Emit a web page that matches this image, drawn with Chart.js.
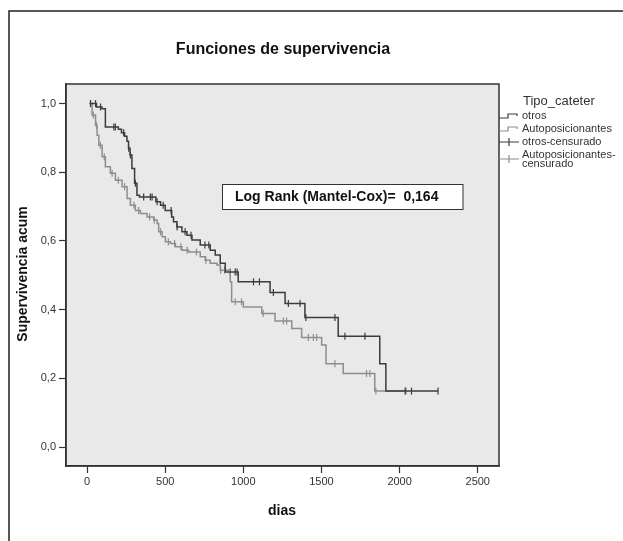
<!DOCTYPE html>
<html>
<head>
<meta charset="utf-8">
<script src="https://cdn.jsdelivr.net/npm/chart.js@4"></script>
<style>
  html, body { margin: 0; padding: 0; background: #fff; }
  #wrap { width: 623px; height: 541px; position: relative; }
</style>
</head>
<body>
<div id="wrap"><canvas id="chart"></canvas></div>
<script>
// Tick labels
const xTicks = [0, 500, 1000, 1500, 2000, 2500];
const yTicks = [0, 0.2, 0.4, 0.6, 0.8, 1.0];

// Kaplan-Meier steps, group "otros" (day, survival after the step)
const otrosDias = [15, 60, 95, 117, 200, 220, 240, 255, 265, 275, 287, 304, 319, 335, 440, 470, 500, 541, 553, 575,
  607, 639, 671, 724, 788, 820, 852, 884, 967, 1171, 1267, 1394, 1607, 1873, 1912, 2246];
const otrosSurv = [1.0, 0.99, 0.985, 0.932, 0.925, 0.915, 0.905, 0.89, 0.87, 0.85, 0.811, 0.768, 0.733, 0.728, 0.714, 0.704, 0.689, 0.670, 0.656, 0.641,
  0.627, 0.617, 0.603, 0.588, 0.573, 0.559, 0.535, 0.51, 0.481, 0.45, 0.418, 0.377, 0.323, 0.243, 0.163, 0.163];

// Kaplan-Meier steps, group "Autoposicionantes"
const autoDias = [20, 32, 54, 64, 75, 96, 117, 149, 181, 224, 256, 277, 309, 341, 384, 426, 448, 458, 480, 501,
  533, 565, 607, 650, 724, 756, 788, 831, 852, 916, 925, 1000, 1118, 1203, 1310, 1373, 1501, 1529, 1639, 1841, 2033];
const autoSurv = [1.0, 0.967, 0.937, 0.908, 0.879, 0.845, 0.816, 0.797, 0.777, 0.758, 0.724, 0.704, 0.689, 0.680, 0.670, 0.661, 0.651, 0.627, 0.612, 0.598,
  0.593, 0.583, 0.573, 0.568, 0.554, 0.544, 0.535, 0.530, 0.515, 0.481, 0.423, 0.408, 0.389, 0.367, 0.345, 0.319, 0.297, 0.243, 0.214, 0.163, 0.163];

// Censored times (marks sit on the curve)
const otrosCens = [22, 54, 86, 171, 181, 234, 266, 277, 309, 362, 405, 416, 448, 487, 538, 576, 627, 665, 754, 779,
  916, 948, 960, 1065, 1103, 1192, 1288, 1363, 1400, 1586, 1650, 1778, 2039, 2076, 2246];
const autoCens = [22, 40, 60, 85, 110, 160, 200, 240, 300, 330, 400, 430, 470, 520, 560, 600, 640, 700, 760, 855,
  880, 948, 988, 1127, 1256, 1277, 1416, 1448, 1469, 1586, 1788, 1810, 1848, 2033];

const DARK = '#3c3c3c';
const LIGHT = '#8e8e8e';
const FONT = 'Arial, "Liberation Sans", sans-serif';

// value of the step curve at day t
function survAt(dias, surv, t) {
  let s = surv[0];
  for (let i = 0; i < dias.length; i++) {
    if (dias[i] <= t) s = surv[i];
  }
  return s;
}

const toPoints = (xs, ys) => xs.map((x, i) => ({ x: x, y: ys[i] }));
const censPoints = (cens, dias, surv) => cens.map(t => ({ x: t, y: survAt(dias, surv, t) }));

const decor = {
  id: 'decor',
  beforeDraw(chart) {
    const { ctx, chartArea: a } = chart;
    ctx.save();
    ctx.fillStyle = '#fff';
    ctx.fillRect(0, 0, chart.width, chart.height);
    // outer frame (left and top edges visible)
    ctx.strokeStyle = '#222';
    ctx.lineWidth = 1.5;
    ctx.beginPath();
    ctx.moveTo(9, chart.height);
    ctx.lineTo(9, 11);
    ctx.lineTo(chart.width, 11);
    ctx.stroke();
    // plot area background
    ctx.fillStyle = '#e9e9e9';
    ctx.fillRect(a.left, a.top, a.right - a.left, a.bottom - a.top);
    ctx.restore();
  },
  afterDraw(chart) {
    const { ctx, chartArea: a } = chart;
    ctx.save();
    ctx.strokeStyle = '#333';
    ctx.lineWidth = 1.5;
    ctx.strokeRect(a.left, a.top, a.right - a.left, a.bottom - a.top);

    ctx.fillStyle = '#111';
    ctx.textAlign = 'center';
    ctx.textBaseline = 'middle';
    ctx.font = 'bold 16px ' + FONT;
    ctx.fillText('Funciones de supervivencia', 283, 50);
    ctx.font = 'bold 14px ' + FONT;
    ctx.fillText('dias', 282, 511);
    ctx.save();
    ctx.translate(23, 274);
    ctx.rotate(-Math.PI / 2);
    ctx.fillText('Supervivencia acum', 0, 0);
    ctx.restore();

    // Log rank box
    ctx.fillStyle = '#fff';
    ctx.fillRect(222.5, 184.5, 240.5, 25);
    ctx.lineWidth = 1;
    ctx.strokeStyle = '#333';
    ctx.strokeRect(222.5, 184.5, 240.5, 25);
    ctx.fillStyle = '#111';
    ctx.textAlign = 'left';
    ctx.font = 'bold 14px ' + FONT;
    ctx.fillText('Log Rank (Mantel-Cox)=  0,164', 235, 197.5);

    // legend
    ctx.fillStyle = '#333';
    ctx.font = '13px ' + FONT;
    ctx.fillText('Tipo_cateter', 523, 101);
    ctx.font = '11px ' + FONT;
    ctx.fillText('otros', 522, 116);
    ctx.fillText('Autoposicionantes', 522, 129);
    ctx.fillText('otros-censurado', 522, 142);
    ctx.fillText('Autoposicionantes-', 522, 155);
    ctx.fillText('censurado', 522, 164);

    const stepSym = (y, color) => {
      ctx.strokeStyle = color;
      ctx.lineWidth = 1.2;
      ctx.beginPath();
      ctx.moveTo(499, y + 2);
      ctx.lineTo(508, y + 2);
      ctx.lineTo(508, y - 2);
      ctx.lineTo(517, y - 2);
      ctx.lineTo(517, y);
      ctx.stroke();
    };
    const censSym = (y, color) => {
      ctx.strokeStyle = color;
      ctx.lineWidth = 1.2;
      ctx.beginPath();
      ctx.moveTo(499, y);
      ctx.lineTo(519, y);
      ctx.moveTo(509, y - 4);
      ctx.lineTo(509, y + 4);
      ctx.stroke();
    };
    stepSym(116, DARK);
    stepSym(129, LIGHT);
    censSym(142, DARK);
    censSym(159, LIGHT);
    ctx.restore();
  }
};

new Chart(document.getElementById('chart'), {
  type: 'scatter',
  data: {
    datasets: [
      {
        label: 'otros',
        data: toPoints(otrosDias, otrosSurv),
        showLine: true,
        stepped: true,
        borderColor: DARK,
        borderWidth: 1.5,
        pointRadius: 0
      },
      {
        label: 'Autoposicionantes',
        data: toPoints(autoDias, autoSurv),
        showLine: true,
        stepped: true,
        borderColor: LIGHT,
        borderWidth: 1.5,
        pointRadius: 0
      },
      {
        label: 'otros-censurado',
        data: censPoints(otrosCens, otrosDias, otrosSurv),
        showLine: false,
        pointStyle: 'line',
        rotation: 90,
        pointRadius: 3.5,
        borderColor: DARK,
        borderWidth: 1.2
      },
      {
        label: 'Autoposicionantes-censurado',
        data: censPoints(autoCens, autoDias, autoSurv),
        showLine: false,
        pointStyle: 'line',
        rotation: 90,
        pointRadius: 3.5,
        borderColor: LIGHT,
        borderWidth: 1.2
      }
    ]
  },
  options: {
    responsive: true,
    maintainAspectRatio: false,
    animation: false,
    events: [],
    layout: { padding: { left: 0, top: 84, right: 124, bottom: 0 } },
    plugins: {
      legend: { display: false },
      tooltip: { enabled: false }
    },
    scales: {
      x: {
        type: 'linear',
        min: -135,
        max: 2636,
        afterFit(scale) { scale.height = 75; },
        afterBuildTicks(scale) { scale.ticks = xTicks.map(v => ({ value: v })); },
        grid: { drawOnChartArea: false, drawTicks: true, tickLength: 7, color: '#333', tickWidth: 1.2 },
        border: { display: true, color: '#333', width: 1.5 },
        ticks: {
          padding: 2,
          color: '#333',
          font: { family: FONT, size: 11 },
          maxRotation: 0,
          callback: v => String(v)
        }
      },
      y: {
        type: 'linear',
        min: -0.055,
        max: 1.057,
        afterFit(scale) { scale.width = 66; },
        afterBuildTicks(scale) { scale.ticks = yTicks.map(v => ({ value: v })); },
        grid: { drawOnChartArea: false, drawTicks: true, tickLength: 7, color: '#333', tickWidth: 1.2 },
        border: { display: true, color: '#333', width: 1.5 },
        ticks: {
          padding: 3,
          color: '#333',
          font: { family: FONT, size: 11 },
          callback: v => v.toFixed(1).replace('.', ',')
        }
      }
    }
  },
  plugins: [decor]
});
</script>
</body>
</html>
